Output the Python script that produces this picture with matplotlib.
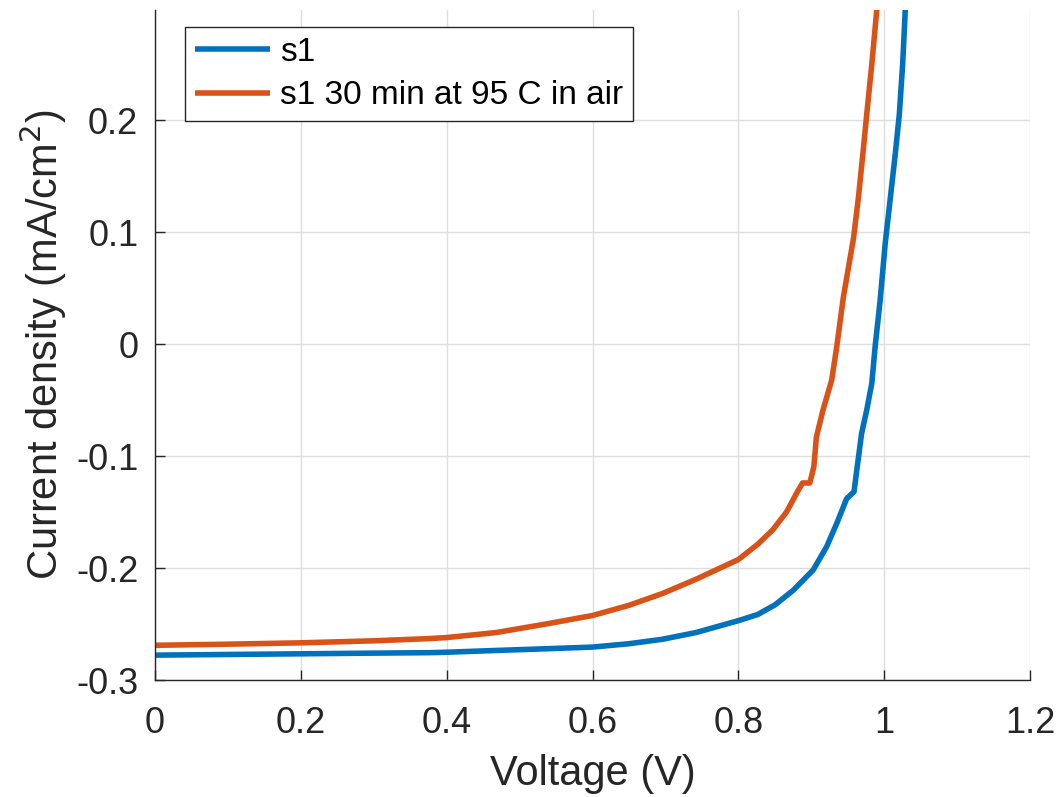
import matplotlib
matplotlib.use("Agg")
import matplotlib.pyplot as plt

plt.rcParams['font.family'] = ['Liberation Sans', 'DejaVu Sans']
plt.rcParams['axes.unicode_minus'] = False

# s1 (as prepared)
v_s1 = [0.0, 0.1, 0.2, 0.3, 0.376, 0.4, 0.468, 0.536, 0.6, 0.650, 0.696, 0.742, 0.8,
        0.8265, 0.85, 0.875, 0.9025, 0.921, 0.935, 0.9485, 0.9586, 0.963, 0.969, 0.976,
        0.983, 0.9876, 0.9945, 1.0014, 1.0083, 1.0152, 1.0207, 1.0253, 1.029]
j_s1 = [-0.2778, -0.2772, -0.2766, -0.2760, -0.2756, -0.2752, -0.2736, -0.2721, -0.2706,
        -0.2676, -0.2636, -0.2576, -0.2470, -0.2415, -0.2330, -0.2200, -0.2018, -0.1810,
        -0.1600, -0.1380, -0.1318, -0.1095, -0.0798, -0.0590, -0.0350, -0.0020, 0.0396,
        0.0900, 0.1300, 0.1700, 0.2050, 0.2500, 0.3000]

# s1 after 30 min at 95 C in air
v_s1h = [0.0, 0.1, 0.2, 0.3, 0.376, 0.4, 0.468, 0.536, 0.6, 0.650, 0.696, 0.742, 0.8,
         0.8265, 0.847, 0.866, 0.88, 0.888, 0.898, 0.9035, 0.907, 0.916, 0.928, 0.935,
         0.944, 0.958, 0.965, 0.9715, 0.976, 0.983, 0.990]
j_s1h = [-0.2690, -0.2680, -0.2668, -0.2650, -0.2630, -0.2621, -0.2576, -0.2500, -0.2424,
         -0.2333, -0.2227, -0.2100, -0.1924, -0.1788, -0.1660, -0.1500, -0.1330, -0.1240,
         -0.1240, -0.1095, -0.0830, -0.0590, -0.0320, -0.0020, 0.0420, 0.0950, 0.1330,
         0.1750, 0.2050, 0.2500, 0.3000]

labels = ['s1', 's1 30 min at 95 C in air']
colors = ['#0072BD', '#D95319']

x_ticks = [0, 0.2, 0.4, 0.6, 0.8, 1.0, 1.2]
x_ticklabels = ['0', '0.2', '0.4', '0.6', '0.8', '1', '1.2']
y_ticks = [-0.3, -0.2, -0.1, 0, 0.1, 0.2]
y_ticklabels = ['-0.3', '-0.2', '-0.1', '0', '0.1', '0.2']

fig = plt.figure(figsize=(10.63, 7.97), dpi=100)
ax = fig.add_axes([0.1458, 0.1468, 0.8232, 0.8407])

ax.plot(v_s1, j_s1, color=colors[0], lw=4.0, label=labels[0],
        solid_joinstyle='round', solid_capstyle='butt')
ax.plot(v_s1h, j_s1h, color=colors[1], lw=4.0, label=labels[1],
        solid_joinstyle='round', solid_capstyle='butt')

ax.set_xlim(0, 1.2)
ax.set_ylim(-0.3, 0.2985)
ax.set_xticks(x_ticks)
ax.set_xticklabels(x_ticklabels)
ax.set_yticks(y_ticks)
ax.set_yticklabels(y_ticklabels)

for s in ['top', 'right']:
    ax.spines[s].set_visible(False)
for s in ['left', 'bottom']:
    ax.spines[s].set_color('#262626')
    ax.spines[s].set_linewidth(1.0)

ax.tick_params(direction='in', length=7, width=1.0, colors='#262626',
               labelsize=26, labelcolor='#262626')
ax.tick_params(axis='x', pad=19)
ax.tick_params(axis='y', pad=12)
ax.grid(True, color='#dedede', linewidth=1.0)
ax.set_axisbelow(True)

ax.set_xlabel('Voltage (V)', fontsize=30, color='#262626', labelpad=9)
ax.set_ylabel('Current density (mA/cm$^2$)', fontsize=30, color='#262626', labelpad=5)

leg = ax.legend(loc='upper left', bbox_to_anchor=(0.034, 0.975), fontsize=24,
                frameon=True, fancybox=False, edgecolor='#262626', framealpha=1,
                handlelength=2.25, handletextpad=0.3, borderpad=0.3, labelspacing=0.38,
                borderaxespad=0)
leg.get_frame().set_linewidth(1.0)

fig.savefig('out.png', dpi=100)
